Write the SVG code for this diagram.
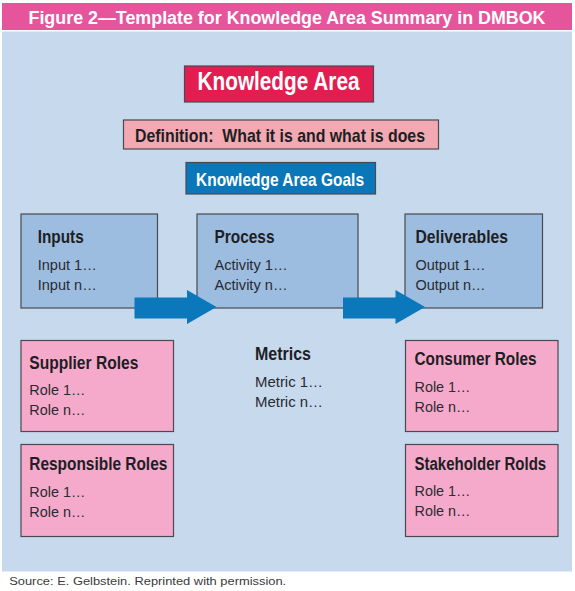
<svg xmlns="http://www.w3.org/2000/svg" width="575" height="591" viewBox="0 0 575 591">
<style>
text{font-family:"Liberation Sans",Arial,sans-serif;}
.b{stroke:#4a4a50;stroke-width:1.2;}
.proc{fill:#9cbde0;}
.role{fill:#f5aacb;}
.h{font-weight:bold;font-size:19px;fill:#1e1e24;}
.t{font-size:15.5px;fill:#2a2a30;}
.arr{fill:#0a78bb;}
</style>
<rect width="575" height="591" fill="#ffffff"/>
<g id="title">
<rect x="2" y="3" width="570" height="27" fill="#e6559c"/>
<text x="28.5" y="24" font-size="18" font-weight="bold" fill="#ffffff" textLength="517" lengthAdjust="spacingAndGlyphs">Figure 2—Template for Knowledge Area Summary in DMBOK</text>
</g>
<rect id="panel" x="2" y="31.5" width="570" height="540" fill="#c7d9ed"/>
<g id="knowledge-area">
<rect class="b" x="184.5" y="66" width="189" height="36" fill="#e41d50"/>
<text x="197.5" y="90" font-size="26.5" font-weight="bold" fill="#ffffff" textLength="162" lengthAdjust="spacingAndGlyphs">Knowledge Area</text>
</g>
<g id="definition">
<rect class="b" x="123.5" y="120" width="315" height="29" fill="#f3a9b1"/>
<text x="135" y="142" font-size="18.5" font-weight="bold" fill="#1e1e24" textLength="290" lengthAdjust="spacingAndGlyphs">Definition:&#160; What it is and what is does</text>
</g>
<g id="goals">
<rect class="b" x="186" y="162.5" width="189.5" height="31.5" fill="#0a77b9"/>
<text x="196" y="185.5" font-size="18.5" font-weight="bold" fill="#ffffff" textLength="168" lengthAdjust="spacingAndGlyphs">Knowledge Area Goals</text>
</g>
<g id="inputs">
<rect class="b proc" x="21" y="214" width="136.5" height="94"/>
<text class="h" x="37.7" y="243" textLength="46" lengthAdjust="spacingAndGlyphs">Inputs</text>
<text class="t" x="37.7" y="270" textLength="59" lengthAdjust="spacingAndGlyphs">Input 1…</text>
<text class="t" x="37.7" y="290" textLength="59" lengthAdjust="spacingAndGlyphs">Input n…</text>
</g>
<g id="process">
<rect class="b proc" x="197" y="214" width="161" height="94"/>
<text class="h" x="214.5" y="243" textLength="60" lengthAdjust="spacingAndGlyphs">Process</text>
<text class="t" x="214.5" y="270" textLength="73" lengthAdjust="spacingAndGlyphs">Activity 1…</text>
<text class="t" x="214.5" y="290" textLength="73" lengthAdjust="spacingAndGlyphs">Activity n…</text>
</g>
<g id="deliverables">
<rect class="b proc" x="405" y="214" width="137.5" height="94"/>
<text class="h" x="415.5" y="243" textLength="92.5" lengthAdjust="spacingAndGlyphs">Deliverables</text>
<text class="t" x="415.5" y="270" textLength="70" lengthAdjust="spacingAndGlyphs">Output 1…</text>
<text class="t" x="415.5" y="290" textLength="70" lengthAdjust="spacingAndGlyphs">Output n…</text>
</g>
<g id="connectors">
<polygon class="arr" points="134.5,297.5 187,297.5 187,290 216.5,307 187,324 187,318.5 134.5,318.5"/>
<polygon class="arr" points="343,297.5 395.5,297.5 395.5,290 425,307 395.5,324 395.5,318.5 343,318.5"/>
</g>
<g id="supplier-roles">
<rect class="b role" x="21" y="340.5" width="152.5" height="91"/>
<text class="h" x="29.3" y="368.5" textLength="109" lengthAdjust="spacingAndGlyphs">Supplier Roles</text>
<text class="t" x="29.3" y="395" textLength="56" lengthAdjust="spacingAndGlyphs">Role 1…</text>
<text class="t" x="29.3" y="415" textLength="56" lengthAdjust="spacingAndGlyphs">Role n…</text>
</g>
<g id="metrics">
<text class="h" x="255" y="360" textLength="56" lengthAdjust="spacingAndGlyphs">Metrics</text>
<text class="t" x="255" y="386.5" textLength="68" lengthAdjust="spacingAndGlyphs">Metric 1…</text>
<text class="t" x="255" y="406.5" textLength="68" lengthAdjust="spacingAndGlyphs">Metric n…</text>
</g>
<g id="consumer-roles">
<rect class="b role" x="405.5" y="340.5" width="152.5" height="91"/>
<text class="h" x="414.5" y="365" textLength="122" lengthAdjust="spacingAndGlyphs">Consumer Roles</text>
<text class="t" x="414.5" y="391.5" textLength="56" lengthAdjust="spacingAndGlyphs">Role 1…</text>
<text class="t" x="414.5" y="411.5" textLength="56" lengthAdjust="spacingAndGlyphs">Role n…</text>
</g>
<g id="responsible-roles">
<rect class="b role" x="21" y="444.5" width="152.5" height="92"/>
<text class="h" x="29.3" y="470" textLength="138" lengthAdjust="spacingAndGlyphs">Responsible Roles</text>
<text class="t" x="29.3" y="496.5" textLength="56" lengthAdjust="spacingAndGlyphs">Role 1…</text>
<text class="t" x="29.3" y="516.5" textLength="56" lengthAdjust="spacingAndGlyphs">Role n…</text>
</g>
<g id="stakeholder-roles">
<rect class="b role" x="405.5" y="444.5" width="152.5" height="92"/>
<text class="h" transform="translate(414.5 470) scale(0.79 1)" x="0" y="0">Stakeholder Rolds</text>
<text class="t" x="414.5" y="495.5" textLength="56" lengthAdjust="spacingAndGlyphs">Role 1…</text>
<text class="t" x="414.5" y="515.5" textLength="56" lengthAdjust="spacingAndGlyphs">Role n…</text>
</g>
<text id="source" x="9.2" y="585" font-size="10" fill="#3a3a40" textLength="277" lengthAdjust="spacingAndGlyphs">Source:  E. Gelbstein. Reprinted with permission.</text>
</svg>
